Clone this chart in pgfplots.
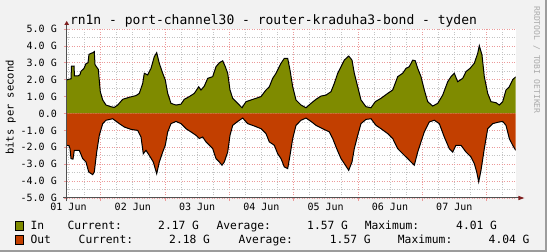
\documentclass[border=0pt]{standalone}
\usepackage{pgfplots}
\pgfplotsset{compat=1.18}
\usepackage{fontspec}
\setmainfont{DejaVu Sans Mono}
\setmonofont{DejaVu Sans Mono}
\definecolor{bgc}{HTML}{F2F2F2}
\definecolor{ingreen}{HTML}{7F8B00}
\definecolor{outorange}{HTML}{C23F00}
\definecolor{mgrid}{HTML}{EC9A9A}
\definecolor{mingrid}{HTML}{C4C4C4}
\definecolor{arrowred}{HTML}{7F1F1F}
\definecolor{axiscol}{HTML}{505050}
\definecolor{shadeb}{HTML}{9C9C9C}
\definecolor{wmark}{HTML}{ABABAB}
\begin{document}
\begin{tikzpicture}[x=1pt,y=1pt]
\useasboundingbox (0,0) rectangle (547,252);
\fill[bgc] (0,0) rectangle (547,252);
\fill[shadeb] (545,0) rectangle (547,252);
\fill[shadeb] (0,0) rectangle (547,2);
\begin{axis}[
  at={(66.7pt,54pt)}, anchor=south west, scale only axis,
  width=449pt, height=169pt,
  xmin=66.7, xmax=515.7, ymin=-5, ymax=5,
  axis background/.style={fill=white},
  axis x line*=bottom, axis y line*=left,
  axis line style={draw=none},
  xtick={100.7,165.0,229.3,293.6,357.9,422.2,486.5},
  xticklabels={,,,,,,},
  minor xtick={68.5,84.6,116.8,132.8,148.9,181.1,197.1,213.2,245.4,261.4,277.5,309.7,325.7,341.8,374.0,390.0,406.1,438.3,454.3,470.4,502.6},
  extra x ticks={68.5,132.8,197.1,261.4,325.7,390.0,454.3},
  extra x tick labels={01 Jun,02 Jun,03 Jun,04 Jun,05 Jun,06 Jun,07 Jun},
  extra x tick style={grid=none, major tick length=0pt},
  ytick={-5,-4,-3,-2,-1,0,1,2,3,4,5},
  yticklabels={-5.0 G,-4.0 G,-3.0 G,-2.0 G,-1.0 G,0.0,1.0 G,2.0 G,3.0 G,4.0 G,5.0 G},
  minor ytick={-4.5,-3.5,-2.5,-1.5,-0.5,0.5,1.5,2.5,3.5,4.5},
  grid=both,
  major grid style={mgrid, line width=0.7pt, dash pattern=on 1pt off 1.5pt},
  minor grid style={mingrid, line width=0.7pt, dash pattern=on 1pt off 1.5pt},
  tick align=outside,
  major tick length=3pt, minor tick length=0pt,
  tick style={draw=mgrid, line width=0.7pt},
  ticklabel style={font=\fontsize{10}{12}\selectfont, inner sep=0pt},
  xticklabel shift=5.3pt,
  yticklabel shift=6.7pt,
  clip=true,
]
\addplot[draw=none, fill=ingreen] coordinates {
(66.7,0) (66.7,1.98) (68,2.02) (71,2.05) (71.5,2.80) (74,2.81) (74.5,2.22) (78,2.22) (80,2.30) (81,2.50) (84,2.67) (86,2.95) (88,3.00) (89,3.50) (91,3.56) (93,3.60) (94.3,3.66) (95,2.90) (96,2.80) (98.3,2.61) (100.3,1.29) (102.7,0.80) (106,0.50) (111,0.40) (114.3,0.36) (117.7,0.50) (122.7,0.84) (129.3,0.96) (136,1.06) (139.3,1.19) (142.7,1.78) (144.3,2.38) (147.7,2.28) (151,2.67) (154.3,3.36) (156.7,3.60) (159.3,2.97) (162.7,2.38) (165.3,1.98) (167.7,1.19) (171,0.60) (176,0.50) (181,0.55) (184.3,0.84) (189.3,1.00) (194.3,1.19) (198.7,1.58) (201,1.39) (204.3,1.62) (207.7,2.08) (212.7,2.18) (216,2.77) (219.3,3.00) (222.7,3.12) (225.3,2.77) (227.7,2.38) (230,1.39) (232.7,0.90) (237.7,0.60) (242,0.34) (246,0.70) (251,0.80) (256,0.90) (261,1.00) (266,1.39) (269.3,1.58) (272.7,2.08) (276,2.38) (281,2.97) (284.3,3.26) (287.7,3.26) (290,2.57) (292.7,1.58) (296,0.80) (301,0.50) (306,0.34) (311,0.60) (316,0.84) (321,1.03) (326,1.09) (331,1.29) (334.3,1.78) (337.7,2.38) (341,2.77) (344.3,3.16) (348.7,3.40) (352,3.16) (354.3,2.38) (357.7,1.58) (361,0.80) (366,0.40) (371,0.34) (375.3,0.70) (381,0.90) (387.7,1.19) (392.7,1.39) (397.7,2.18) (402.7,2.38) (406,2.67) (409.3,2.77) (412.7,3.16) (415.3,3.12) (417.7,2.67) (421,2.18) (424.3,1.39) (427.7,0.70) (432.7,0.44) (437.7,0.60) (442.7,1.09) (447.7,1.88) (451,2.18) (454.3,2.38) (457.7,1.88) (462.7,2.08) (466,2.48) (470,2.67) (474.3,2.97) (477.7,3.56) (479.3,4.01) (482,3.46) (484.3,2.18) (487.7,1.19) (491,0.70) (496,0.64) (499.3,0.50) (502.7,0.70) (506,1.39) (509.3,1.58) (512.7,2.00) (515.7,2.17) (515.7,0)
} --cycle;
\addplot[draw=none, fill=outorange] coordinates {
(66.7,0) (66.7,-1.88) (69,-1.90) (70,-2.08) (71,-2.67) (73,-2.70) (74.3,-2.18) (79.3,-2.18) (82.7,-2.67) (86,-2.87) (88.7,-3.46) (92.7,-3.62) (94.3,-3.46) (96.7,-2.28) (99.3,-1.29) (102.7,-0.60) (106,-0.40) (112.7,-0.31) (119.3,-0.60) (124.3,-0.80) (131,-0.94) (137.7,-1.00) (141,-1.39) (143.3,-2.38) (146,-2.18) (149.3,-2.48) (153.3,-2.87) (156.7,-3.56) (159.3,-2.87) (162.7,-2.28) (165.3,-1.88) (167.7,-1.09) (171,-0.60) (176,-0.47) (181,-0.60) (186,-0.90) (191,-1.09) (196,-1.29) (199.3,-1.48) (202.7,-1.39) (206,-1.68) (212.7,-2.08) (216,-2.67) (219.3,-2.87) (222,-3.06) (224.3,-2.87) (227.7,-2.28) (230,-1.29) (232.7,-0.70) (237.7,-0.47) (242.7,-0.27) (247.7,-0.60) (254.3,-0.74) (261,-0.90) (266,-1.19) (269.3,-1.68) (274.3,-1.88) (277.7,-2.38) (281,-2.67) (284.3,-3.16) (287.7,-3.26) (290,-2.48) (292.7,-1.48) (296,-0.70) (301,-0.40) (306,-0.27) (311,-0.47) (316,-0.70) (322.7,-0.90) (329.3,-1.09) (332.7,-1.48) (336.7,-2.08) (341,-2.67) (344.3,-2.96) (348.7,-3.36) (352,-2.87) (354.3,-2.08) (357.7,-1.29) (361,-0.60) (366,-0.35) (371,-0.31) (376,-0.70) (381,-0.90) (387.7,-1.19) (392.7,-1.48) (397.7,-2.08) (402.7,-2.38) (407.7,-2.67) (411,-2.87) (414.3,-3.06) (417.7,-2.28) (421,-1.68) (424.3,-1.09) (429.3,-0.50) (434.3,-0.40) (439.3,-0.60) (444.3,-1.39) (449.3,-2.08) (452.7,-2.28) (456,-1.88) (461,-1.88) (466,-2.28) (471,-2.57) (474.3,-2.96) (476.7,-3.46) (478.7,-4.04) (481,-3.36) (484.3,-2.08) (487.7,-0.90) (492.7,-0.60) (499.3,-0.50) (502.7,-0.47) (506,-0.70) (509.3,-1.48) (512.7,-1.88) (515.7,-2.18) (515.7,0)
} --cycle;
\addplot[black, line width=1pt] coordinates {
(66.7,1.98) (68,2.02) (71,2.05) (71.5,2.80) (74,2.81) (74.5,2.22) (78,2.22) (80,2.30) (81,2.50) (84,2.67) (86,2.95) (88,3.00) (89,3.50) (91,3.56) (93,3.60) (94.3,3.66) (95,2.90) (96,2.80) (98.3,2.61) (100.3,1.29) (102.7,0.80) (106,0.50) (111,0.40) (114.3,0.36) (117.7,0.50) (122.7,0.84) (129.3,0.96) (136,1.06) (139.3,1.19) (142.7,1.78) (144.3,2.38) (147.7,2.28) (151,2.67) (154.3,3.36) (156.7,3.60) (159.3,2.97) (162.7,2.38) (165.3,1.98) (167.7,1.19) (171,0.60) (176,0.50) (181,0.55) (184.3,0.84) (189.3,1.00) (194.3,1.19) (198.7,1.58) (201,1.39) (204.3,1.62) (207.7,2.08) (212.7,2.18) (216,2.77) (219.3,3.00) (222.7,3.12) (225.3,2.77) (227.7,2.38) (230,1.39) (232.7,0.90) (237.7,0.60) (242,0.34) (246,0.70) (251,0.80) (256,0.90) (261,1.00) (266,1.39) (269.3,1.58) (272.7,2.08) (276,2.38) (281,2.97) (284.3,3.26) (287.7,3.26) (290,2.57) (292.7,1.58) (296,0.80) (301,0.50) (306,0.34) (311,0.60) (316,0.84) (321,1.03) (326,1.09) (331,1.29) (334.3,1.78) (337.7,2.38) (341,2.77) (344.3,3.16) (348.7,3.40) (352,3.16) (354.3,2.38) (357.7,1.58) (361,0.80) (366,0.40) (371,0.34) (375.3,0.70) (381,0.90) (387.7,1.19) (392.7,1.39) (397.7,2.18) (402.7,2.38) (406,2.67) (409.3,2.77) (412.7,3.16) (415.3,3.12) (417.7,2.67) (421,2.18) (424.3,1.39) (427.7,0.70) (432.7,0.44) (437.7,0.60) (442.7,1.09) (447.7,1.88) (451,2.18) (454.3,2.38) (457.7,1.88) (462.7,2.08) (466,2.48) (470,2.67) (474.3,2.97) (477.7,3.56) (479.3,4.01) (482,3.46) (484.3,2.18) (487.7,1.19) (491,0.70) (496,0.64) (499.3,0.50) (502.7,0.70) (506,1.39) (509.3,1.58) (512.7,2.00) (515.7,2.17)
};
\addplot[black, line width=1pt] coordinates {
(66.7,-1.88) (69,-1.90) (70,-2.08) (71,-2.67) (73,-2.70) (74.3,-2.18) (79.3,-2.18) (82.7,-2.67) (86,-2.87) (88.7,-3.46) (92.7,-3.62) (94.3,-3.46) (96.7,-2.28) (99.3,-1.29) (102.7,-0.60) (106,-0.40) (112.7,-0.31) (119.3,-0.60) (124.3,-0.80) (131,-0.94) (137.7,-1.00) (141,-1.39) (143.3,-2.38) (146,-2.18) (149.3,-2.48) (153.3,-2.87) (156.7,-3.56) (159.3,-2.87) (162.7,-2.28) (165.3,-1.88) (167.7,-1.09) (171,-0.60) (176,-0.47) (181,-0.60) (186,-0.90) (191,-1.09) (196,-1.29) (199.3,-1.48) (202.7,-1.39) (206,-1.68) (212.7,-2.08) (216,-2.67) (219.3,-2.87) (222,-3.06) (224.3,-2.87) (227.7,-2.28) (230,-1.29) (232.7,-0.70) (237.7,-0.47) (242.7,-0.27) (247.7,-0.60) (254.3,-0.74) (261,-0.90) (266,-1.19) (269.3,-1.68) (274.3,-1.88) (277.7,-2.38) (281,-2.67) (284.3,-3.16) (287.7,-3.26) (290,-2.48) (292.7,-1.48) (296,-0.70) (301,-0.40) (306,-0.27) (311,-0.47) (316,-0.70) (322.7,-0.90) (329.3,-1.09) (332.7,-1.48) (336.7,-2.08) (341,-2.67) (344.3,-2.96) (348.7,-3.36) (352,-2.87) (354.3,-2.08) (357.7,-1.29) (361,-0.60) (366,-0.35) (371,-0.31) (376,-0.70) (381,-0.90) (387.7,-1.19) (392.7,-1.48) (397.7,-2.08) (402.7,-2.38) (407.7,-2.67) (411,-2.87) (414.3,-3.06) (417.7,-2.28) (421,-1.68) (424.3,-1.09) (429.3,-0.50) (434.3,-0.40) (439.3,-0.60) (444.3,-1.39) (449.3,-2.08) (452.7,-2.28) (456,-1.88) (461,-1.88) (466,-2.28) (471,-2.57) (474.3,-2.96) (476.7,-3.46) (478.7,-4.04) (481,-3.36) (484.3,-2.08) (487.7,-0.90) (492.7,-0.60) (499.3,-0.50) (502.7,-0.47) (506,-0.70) (509.3,-1.48) (512.7,-1.88) (515.7,-2.18)
};
\end{axis}
% axes with arrows
\draw[axiscol, line width=1pt] (66.7,50.5) -- (66.7,227.5);
\draw[axiscol, line width=1pt] (63,54) -- (518.5,54);
\fill[arrowred] (64.3,227) -- (69.1,227) -- (66.7,231) -- cycle;
\fill[arrowred] (518.3,51.8) -- (518.3,56.2) -- (524.3,54) -- cycle;
% title
\node[anchor=base, inner sep=0pt, font=\fontsize{13}{15}\selectfont] at (273.5,227) {rn1n - port-channel30 - router-kraduha3-bond - tyden};
% y label
\node[rotate=90, inner sep=0pt, font=\fontsize{10.5}{12}\selectfont] at (10.7,144.5) {bits per second};
% watermark
\node[rotate=-90, inner sep=0pt, text=wmark, font=\fontsize{8.1}{9}\selectfont] at (536.7,192) {RRDTOOL / TOBI OETIKER};
% legend
\filldraw[fill=ingreen, draw=black, line width=0.8pt] (15.7,22) rectangle (23.4,30.5);
\filldraw[fill=outorange, draw=black, line width=0.8pt] (15.7,8) rectangle (23.4,16.5);
\begin{scope}[every node/.style={anchor=base west, inner sep=0pt, font=\fontsize{11.3}{13}\selectfont}]
\node at (30.4,22.2) {In};
\node at (67.3,22.2) {Current:};
\node at (158,22.2) {2.17 G};
\node at (216.3,22.2) {Average:};
\node at (307,22.2) {1.57 G};
\node at (364.6,22.2) {Maximum:};
\node at (456,22.2) {4.01 G};
\node at (30.4,8.2) {Out};
\node at (78.5,8.2) {Current:};
\node at (169,8.2) {2.18 G};
\node at (238.3,8.2) {Average:};
\node at (329.7,8.2) {1.57 G};
\node at (397.7,8.2) {Maximum:};
\node at (488.5,8.2) {4.04 G};
\end{scope}
\end{tikzpicture}
\end{document}
